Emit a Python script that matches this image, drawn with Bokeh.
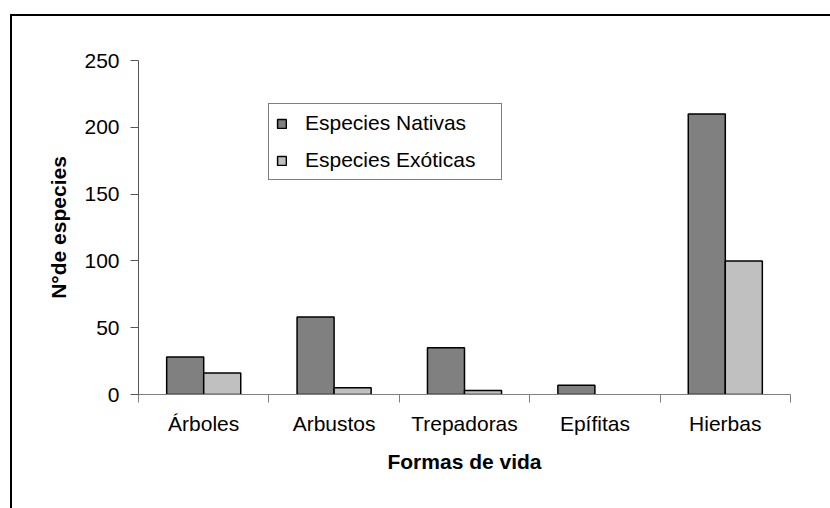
from bokeh.plotting import figure
from bokeh.models import (Range1d, FixedTicker, CustomJSTickFormatter, ColumnDataSource,
                          Legend, LegendItem, CDSView, BooleanFilter)
from bokeh.transform import dodge
from bokeh.embed import file_html
from bokeh.resources import INLINE

categories = ["Árboles", "Arbustos", "Trepadoras", "Epífitas", "Hierbas"]
nativas = [28, 58, 35, 7, 210]
exoticas = [16, 5, 3, 0, 100]
series_names = ["Especies Nativas", "Especies Exóticas"]
y_ticks = [0, 50, 100, 150, 200, 250]

FONT = "Liberation Sans"
FS = "21px"

src = ColumnDataSource(dict(
    pos=[i + 0.5 for i in range(len(categories))],
    cat=categories, nat=nativas, exo=exoticas))

p = figure(width=830, height=508, output_backend="svg", toolbar_location=None,
           x_range=Range1d(0, len(categories)), y_range=Range1d(0, 250),
           min_border_left=138, min_border_right=40, min_border_top=60, min_border_bottom=114)
p.outline_line_color = None
p.xgrid.visible = False
p.ygrid.visible = False
p.background_fill_color = "white"
p.border_fill_color = None
# outer chart frame (left and top edges visible in the window)
p.styles = {
    "background-color": "white",
    "background-image": "linear-gradient(#000,#000), linear-gradient(#000,#000)",
    "background-repeat": "no-repeat",
    "background-position": "10px 14px, 10px 14px",
    "background-size": "2px 100%, 100% 2px",
}

bw = 0.284
nat_view = CDSView(filter=BooleanFilter([v > 0 for v in nativas]))
exo_view = CDSView(filter=BooleanFilter([v > 0 for v in exoticas]))
r1 = p.vbar(x=dodge("pos", -bw / 2, range=p.x_range), top="nat", width=bw, source=src,
            view=nat_view, fill_color="#808080", line_color="black", line_width=1.5)
r2 = p.vbar(x=dodge("pos", bw / 2, range=p.x_range), top="exo", width=bw, source=src,
            view=exo_view, fill_color="#c0c0c0", line_color="black", line_width=1.5)

# x axis
xa = p.xaxis[0]
xa.ticker = FixedTicker(ticks=[i + 0.5 for i in range(len(categories))],
                        minor_ticks=list(range(len(categories) + 1)))
xa.formatter = CustomJSTickFormatter(args=dict(cats=categories),
                                     code="return cats[Math.floor(tick)] || ''")
xa.major_tick_out = 0
xa.major_tick_in = 0
xa.minor_tick_out = 8
xa.minor_tick_in = 0
xa.minor_tick_line_color = "#808080"
xa.axis_line_color = "#808080"
xa.major_label_standoff = 9
xa.major_label_text_font = FONT
xa.major_label_text_font_size = FS
xa.major_label_text_color = "black"
xa.axis_label = "Formas de vida"
xa.axis_label_text_font = FONT
xa.axis_label_text_font_style = "bold"
xa.axis_label_text_font_size = FS
xa.axis_label_text_color = "black"
xa.axis_label_standoff = 12

# y axis
ya = p.yaxis[0]
ya.ticker = FixedTicker(ticks=y_ticks)
ya.minor_tick_line_color = None
ya.major_tick_out = 8
ya.major_tick_in = 0
ya.major_tick_line_color = "#555555"
ya.axis_line_color = "#555555"
ya.major_label_standoff = 11
ya.major_label_text_font = FONT
ya.major_label_text_font_size = FS
ya.major_label_text_color = "black"
ya.axis_label = "N°de especies"
ya.axis_label_text_font = FONT
ya.axis_label_text_font_style = "bold"
ya.axis_label_text_font_size = FS
ya.axis_label_text_color = "black"
ya.axis_label_standoff = 11

legend = Legend(items=[LegendItem(label=series_names[0], renderers=[r1]),
                       LegendItem(label=series_names[1], renderers=[r2])],
                location=(130, 214))
legend.label_text_font = FONT
legend.label_text_font_size = FS
legend.label_text_color = "black"
legend.glyph_width = 11
legend.glyph_height = 11
legend.label_height = 24
legend.label_width = 189
legend.spacing = 13
legend.padding = 7
legend.margin = 0
legend.label_standoff = 18
legend.border_line_color = "black"
legend.border_line_width = 1
legend.background_fill_alpha = 1
p.add_layout(legend, "center")

open("out.html", "w").write(file_html(p, INLINE))
